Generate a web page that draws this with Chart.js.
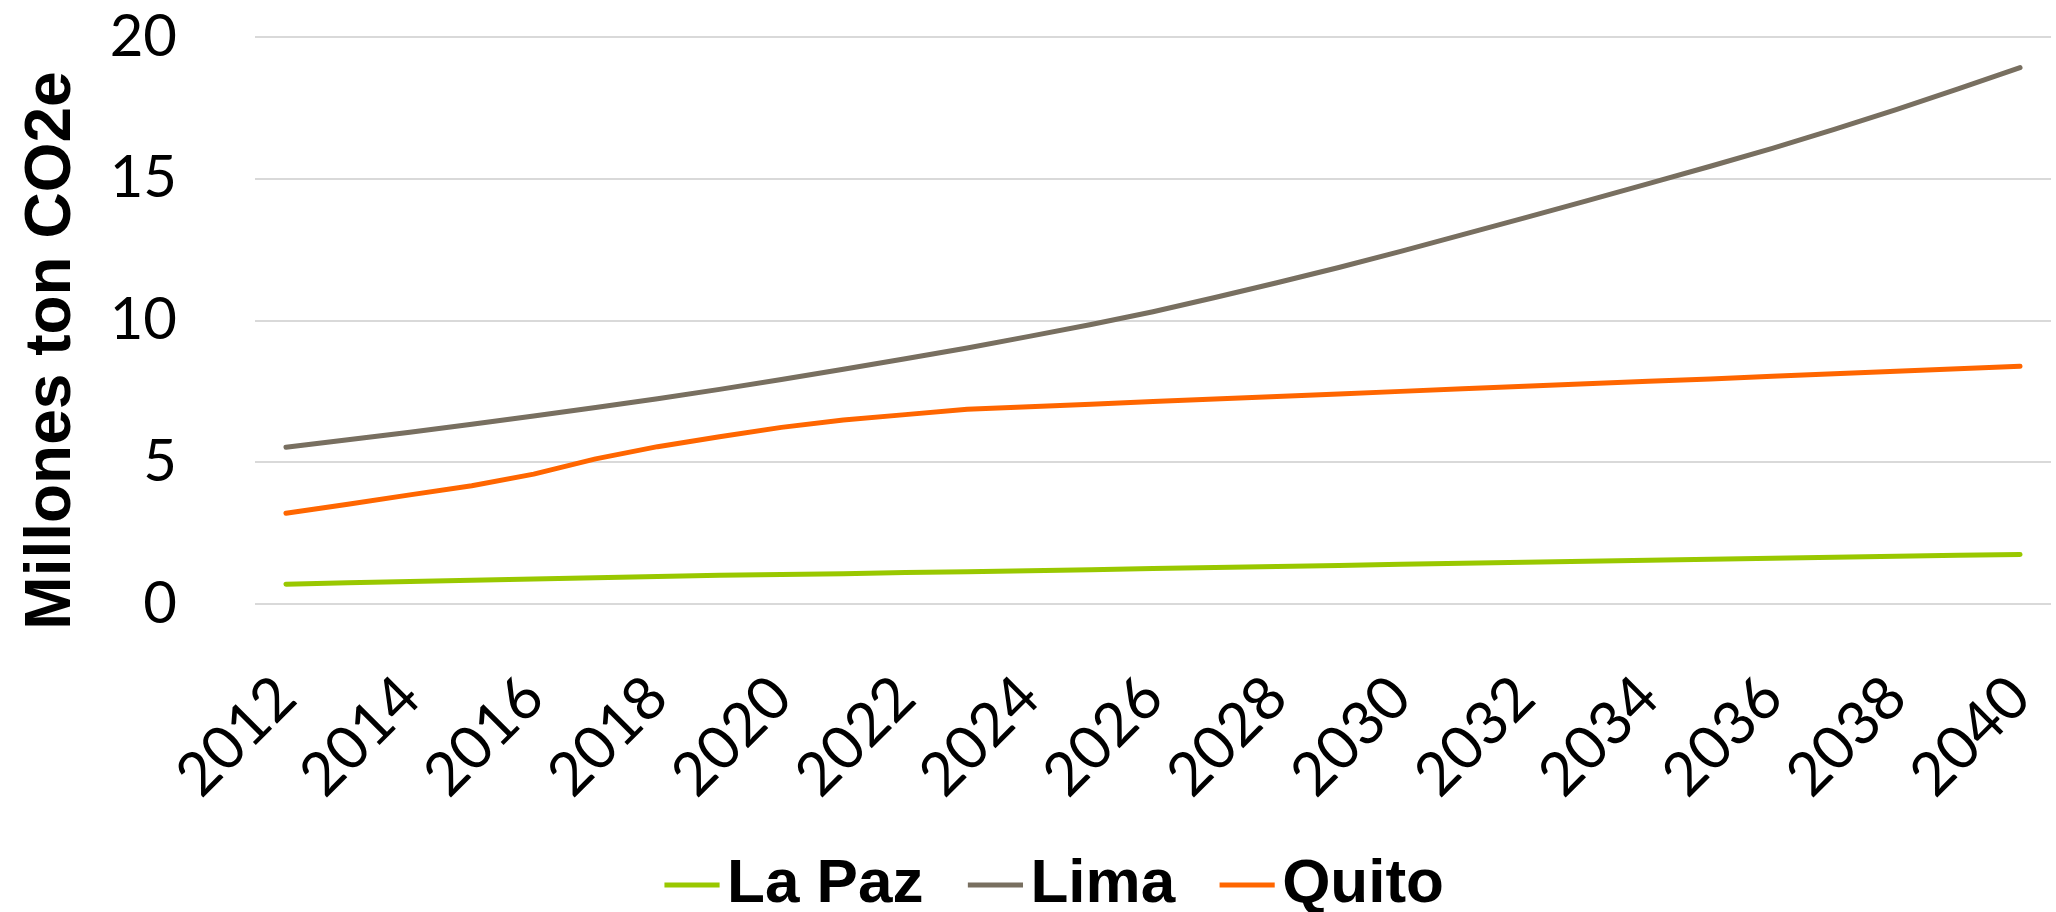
<!DOCTYPE html>
<html>
<head>
<meta charset="utf-8">
<script src="https://cdn.jsdelivr.net/npm/chart.js@4.4.1/dist/chart.umd.min.js"></script>
<style>
  html, body { margin: 0; padding: 0; background: #ffffff; }
  #wrap { width: 2056px; height: 912px; }
</style>
</head>
<body>
<div id="wrap"><canvas id="c" width="2056" height="912"></canvas></div>
<script>
const years = [2012, 2013, 2014, 2015, 2016, 2017, 2018, 2019, 2020, 2021, 2022, 2023, 2024, 2025, 2026,
               2027, 2028, 2029, 2030, 2031, 2032, 2033, 2034, 2035, 2036, 2037, 2038, 2039, 2040];
const tickLabels = [2012, 2014, 2016, 2018, 2020, 2022, 2024, 2026, 2028, 2030, 2032, 2034, 2036, 2038, 2040];
const yTicks = [0, 5, 10, 15, 20];
const laPaz = [0.70, 0.75, 0.79, 0.84, 0.88, 0.93, 0.97, 1.01, 1.04, 1.07, 1.11, 1.14, 1.17, 1.21, 1.25,
               1.29, 1.32, 1.36, 1.40, 1.44, 1.47, 1.51, 1.54, 1.58, 1.61, 1.65, 1.68, 1.72, 1.75];
const lima = [5.53, 5.79, 6.06, 6.34, 6.63, 6.93, 7.24, 7.57, 7.92, 8.28, 8.65, 9.03, 9.44, 9.86, 10.31,
              10.81, 11.33, 11.87, 12.44, 13.03, 13.62, 14.22, 14.83, 15.44, 16.07, 16.74, 17.44, 18.17, 18.92];
const quito = [3.20, 3.52, 3.85, 4.17, 4.58, 5.12, 5.55, 5.90, 6.23, 6.49, 6.68, 6.87, 6.96, 7.05, 7.14,
               7.23, 7.32, 7.41, 7.50, 7.59, 7.68, 7.77, 7.86, 7.94, 8.03, 8.12, 8.21, 8.30, 8.39];
const seriesNames = ['La Paz', 'Lima', 'Quito'];
const seriesColors = ['#99C800', '#786F60', '#FF6600'];
const yTitle = 'Millones ton CO2e';

const boldFamily = "'Liberation Sans', Arial, sans-serif";
const tickFamily = "Lato, 'DejaVu Sans', sans-serif";

const yTitlePlugin = {
  id: 'yTitlePlugin',
  afterDraw(chart) {
    const ctx = chart.ctx;
    const yc = (chart.chartArea.top + chart.chartArea.bottom) / 2 + 30;
    ctx.save();
    ctx.translate(70, yc);
    ctx.rotate(-Math.PI / 2);
    ctx.font = "bold 64px " + boldFamily;
    ctx.fillStyle = '#000000';
    ctx.textAlign = 'center';
    ctx.textBaseline = 'alphabetic';
    ctx.fillText(yTitle, 0, 0);
    ctx.restore();
  }
};

function makeDataset(i, values) {
  return {
    label: seriesNames[i],
    data: values,
    borderColor: seriesColors[i],
    backgroundColor: seriesColors[i],
    pointBorderColor: seriesColors[i],
    pointBorderWidth: 5,
    borderWidth: 5
  };
}

function build() {
  new Chart(document.getElementById('c'), {
    type: 'line',
    data: {
      labels: years,
      datasets: [makeDataset(0, laPaz), makeDataset(1, lima), makeDataset(2, quito)]
    },
    options: {
      responsive: false,
      animation: false,
      devicePixelRatio: 1,
      layout: { padding: { top: 37, right: 5, bottom: -14, left: 81 } },
      elements: {
        line: { tension: 0, borderCapStyle: 'round', borderJoinStyle: 'round', fill: false },
        point: { radius: 0, hoverRadius: 0 }
      },
      plugins: {
        tooltip: { enabled: false },
        legend: {
          position: 'bottom',
          labels: {
            usePointStyle: true,
            pointStyle: 'line',
            boxWidth: 8,
            boxHeight: 39,
            padding: 68,
            color: '#000000',
            font: { family: boldFamily, size: 62, weight: 'bold' }
          }
        }
      },
      scales: {
        x: {
          offset: true,
          grid: { display: false, drawTicks: false },
          border: { display: false },
          ticks: {
            autoSkip: false,
            minRotation: 45,
            maxRotation: 45,
            padding: 58,
            color: '#000000',
            font: { family: tickFamily, size: 60, weight: 400 },
            callback: function (v, i) {
              const yr = years[i];
              return tickLabels.includes(yr) ? String(yr) : '';
            }
          },
          afterFit(scale) {
            scale.height = 182;
            scale.paddingLeft = 0;
            scale.paddingRight = 0;
            scale._computeLabelArea = function () { return undefined; };
          }
        },
        y: {
          min: 0,
          max: 20,
          afterBuildTicks(scale) { scale.ticks = yTicks.map(v => ({ value: v })); },
          grid: { color: '#D9D9D9', lineWidth: 2, drawTicks: false },
          border: { display: false },
          ticks: {
            padding: 78,
            color: '#000000',
            font: { family: tickFamily, size: 58, weight: 400 }
          },
          afterFit(scale) {
            scale.width = 174;
            scale.paddingTop = 0;
            scale.paddingBottom = 0;
          }
        }
      }
    },
    plugins: [yTitlePlugin]
  });
}

if (document.fonts && document.fonts.load) {
  Promise.all([
    document.fonts.load("bold 62px 'Liberation Sans'"),
    document.fonts.load("60px Lato")
  ]).then(build, build);
} else {
  build();
}
</script>
</body>
</html>
